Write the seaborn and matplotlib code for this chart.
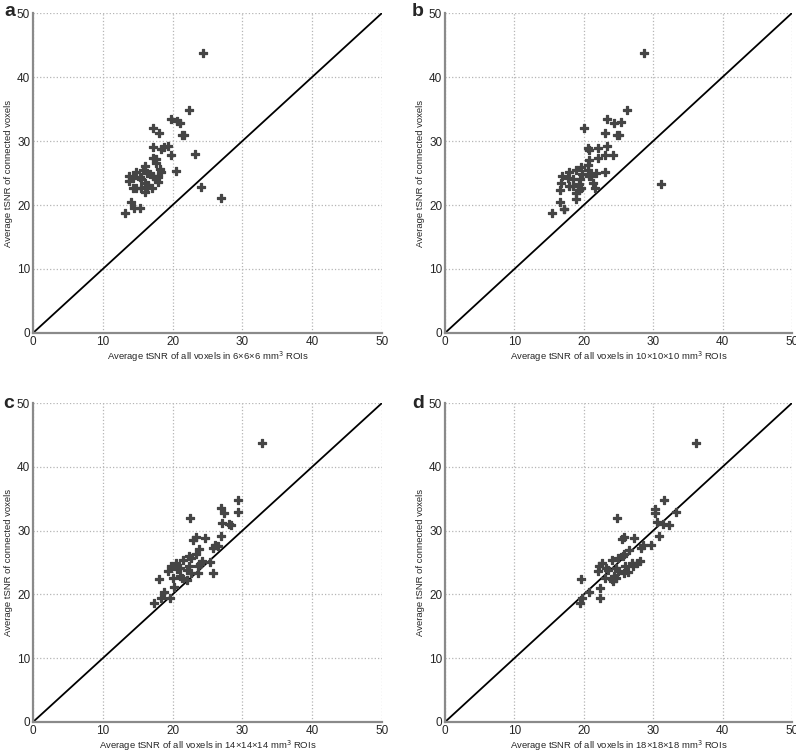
import matplotlib
matplotlib.use('Agg')
import matplotlib.pyplot as plt
import seaborn as sns

sns.set_style('white')
plt.rcParams['font.family'] = ['Liberation Sans', 'DejaVu Sans']

# 데이터
a_x = [24.4, 22.3, 19.8, 20.7, 21.1, 17.2, 18.1, 21.4, 21.7, 17.2, 18.4, 18.7, 19.4, 19.8, 23.2,
       17.2, 17.6, 17.6, 16.1, 20.5, 18.2, 18.3, 15.8, 16.3, 14.7, 13.7, 16.7, 17.2, 14.3, 15.3,
       17.9, 17.6, 13.7, 15.5, 16.0, 16.5, 17.9, 14.3, 14.7, 15.5, 16.3, 17.1, 16.0, 24.0, 27.0,
       14.0, 14.5, 15.3, 13.2]
a_y = [43.7, 34.9, 33.5, 33.1, 32.8, 32.0, 31.3, 31.0, 31.0, 29.1, 28.8, 29.0, 29.2, 27.8, 27.9,
       27.4, 27.2, 26.5, 26.1, 25.3, 25.6, 25.2, 25.4, 25.0, 25.2, 24.6, 24.8, 24.5, 24.2, 24.3,
       24.4, 24.1, 23.7, 24.0, 23.5, 23.2, 23.6, 22.6, 22.6, 22.7, 22.8, 22.6, 22.1, 22.8, 21.1,
       20.5, 19.6, 19.6, 18.8]

b_x = [28.7, 31.1, 26.2, 23.4, 24.4, 25.4, 20.1, 23.1, 24.8, 25.1, 20.6, 20.7, 22.0, 23.4, 22.0,
       23.1, 24.2, 20.8, 20.6, 19.6, 18.9, 17.8, 16.9, 20.6, 19.8, 21.7, 23.0, 17.7, 18.5, 16.7,
       19.5, 20.7, 21.0, 19.3, 21.3, 17.9, 18.5, 19.6, 16.5, 21.6, 18.9, 19.3, 18.9, 16.6, 17.1,
       17.2, 15.4]
b_y = [43.75, 23.3, 34.9, 33.5, 32.8, 33.0, 32.0, 31.25, 30.9, 30.9, 28.9, 28.6, 28.9, 29.2, 27.3,
       27.8, 27.8, 27.1, 26.3, 26.0, 25.4, 25.1, 24.6, 25.5, 24.9, 25.0, 25.2, 24.2, 24.0, 23.5,
       24.0, 24.5, 24.6, 23.3, 23.5, 22.9, 23.0, 22.7, 22.4, 22.7, 21.9, 22.3, 20.9, 20.5, 19.4,
       19.3, 18.75]

c_x = [32.8, 29.3, 29.4, 26.9, 27.3, 22.5, 27.1, 28.1, 28.4, 27.0, 24.7, 23.3, 22.9, 23.8, 26.1,
       25.8, 26.5, 22.3, 22.6, 23.3, 24.2, 23.9, 25.3, 21.5, 20.5, 19.7, 22.4, 22.1, 23.6, 20.6,
       21.1, 19.4, 23.6, 25.8, 22.7, 21.1, 21.3, 20.1, 22.0, 18.1, 20.2, 18.7, 18.4, 19.6, 17.3]
c_y = [43.75, 34.8, 32.9, 33.5, 32.7, 31.9, 31.2, 31.0, 30.9, 29.1, 28.9, 29.0, 28.6, 27.1, 27.8,
       27.3, 27.6, 26.0, 25.7, 26.3, 25.2, 24.8, 25.1, 25.4, 25.0, 24.5, 24.5, 23.9, 24.4, 24.0,
       24.2, 23.6, 23.4, 23.3, 23.3, 22.9, 22.5, 22.5, 22.2, 22.4, 21.1, 20.4, 19.5, 19.5, 18.7]

d_x = [36.2, 31.6, 33.3, 30.3, 30.3, 24.8, 30.6, 31.4, 32.3, 30.8, 25.5, 25.8, 27.2, 29.7, 28.3,
       28.5, 26.5, 25.6, 25.8, 25.0, 24.1, 28.1, 27.7, 27.1, 26.9, 26.0, 22.6, 22.2, 23.2, 23.5,
       22.1, 24.7, 25.0, 25.8, 26.3, 24.4, 24.1, 24.7, 23.0, 24.2, 19.6, 22.4, 20.8, 19.8, 19.5,
       22.4]
d_y = [43.7, 34.8, 32.9, 33.4, 32.7, 31.9, 31.3, 31.0, 30.9, 29.1, 28.7, 29.0, 28.9, 27.7, 27.3,
       27.7, 27.0, 26.0, 26.3, 25.7, 25.4, 25.2, 25.0, 24.5, 24.9, 24.5, 24.9, 24.5, 24.1, 23.9,
       23.6, 24.2, 23.7, 23.4, 23.5, 22.9, 22.4, 22.5, 22.6, 22.1, 22.4, 21.0, 20.4, 19.5, 18.7,
       19.5]

letters = ['a', 'b', 'c', 'd']
roi_sizes = ['6\u00d76\u00d76', '10\u00d710\u00d710', '14\u00d714\u00d714', '18\u00d718\u00d718']
xs = [a_x, b_x, c_x, d_x]
ys = [a_y, b_y, c_y, d_y]
ticks = [0, 10, 20, 30, 40, 50]

fig = plt.figure(figsize=(7.96, 7.55), dpi=100)
W, H = 796, 755
# 패널 위치 (픽셀)
boxes = [(33, 13, 382, 333), (445, 13, 792, 333), (33, 403, 382, 722), (445, 403, 792, 722)]
letter_pos = [(10, 11), (418, 11), (9, 404), (418, 404)]

for i in range(4):
    l, t, r, b = boxes[i]
    ax = fig.add_axes([l / W, 1 - b / H, (r - l) / W, (b - t) / H])
    ax.plot([0, 50], [0, 50], color='black', linewidth=1.3, zorder=2)
    sns.scatterplot(x=xs[i], y=ys[i], ax=ax, marker='P', color='#454545', s=34,
                    edgecolor='#454545', linewidth=0.9, zorder=3)
    ax.set_xlim(0, 50)
    ax.set_ylim(0, 50)
    ax.set_xticks(ticks)
    ax.set_yticks(ticks)
    ax.grid(True, linestyle=':', color='#b5b5b5', linewidth=0.9)
    ax.set_axisbelow(True)
    for s in ['top', 'right']:
        ax.spines[s].set_visible(False)
    for s in ['left', 'bottom']:
        ax.spines[s].set_color('#8a8a8a')
        ax.spines[s].set_linewidth(1.6)
    ax.tick_params(axis='both', labelsize=8.5, length=2, direction='in', color='#8a8a8a', pad=2)
    ax.set_xlabel('Average tSNR of all voxels in ' + roi_sizes[i] + ' mm$^3$ ROIs',
                  fontsize=6.8, labelpad=1)
    ax.set_ylabel('Average tSNR of connected voxels', fontsize=6.8, labelpad=3)
    fig.text(letter_pos[i][0] / W, 1 - letter_pos[i][1] / H, letters[i],
             ha='center', va='center', fontsize=14, fontweight='bold')

plt.savefig('out.png', dpi=100)
